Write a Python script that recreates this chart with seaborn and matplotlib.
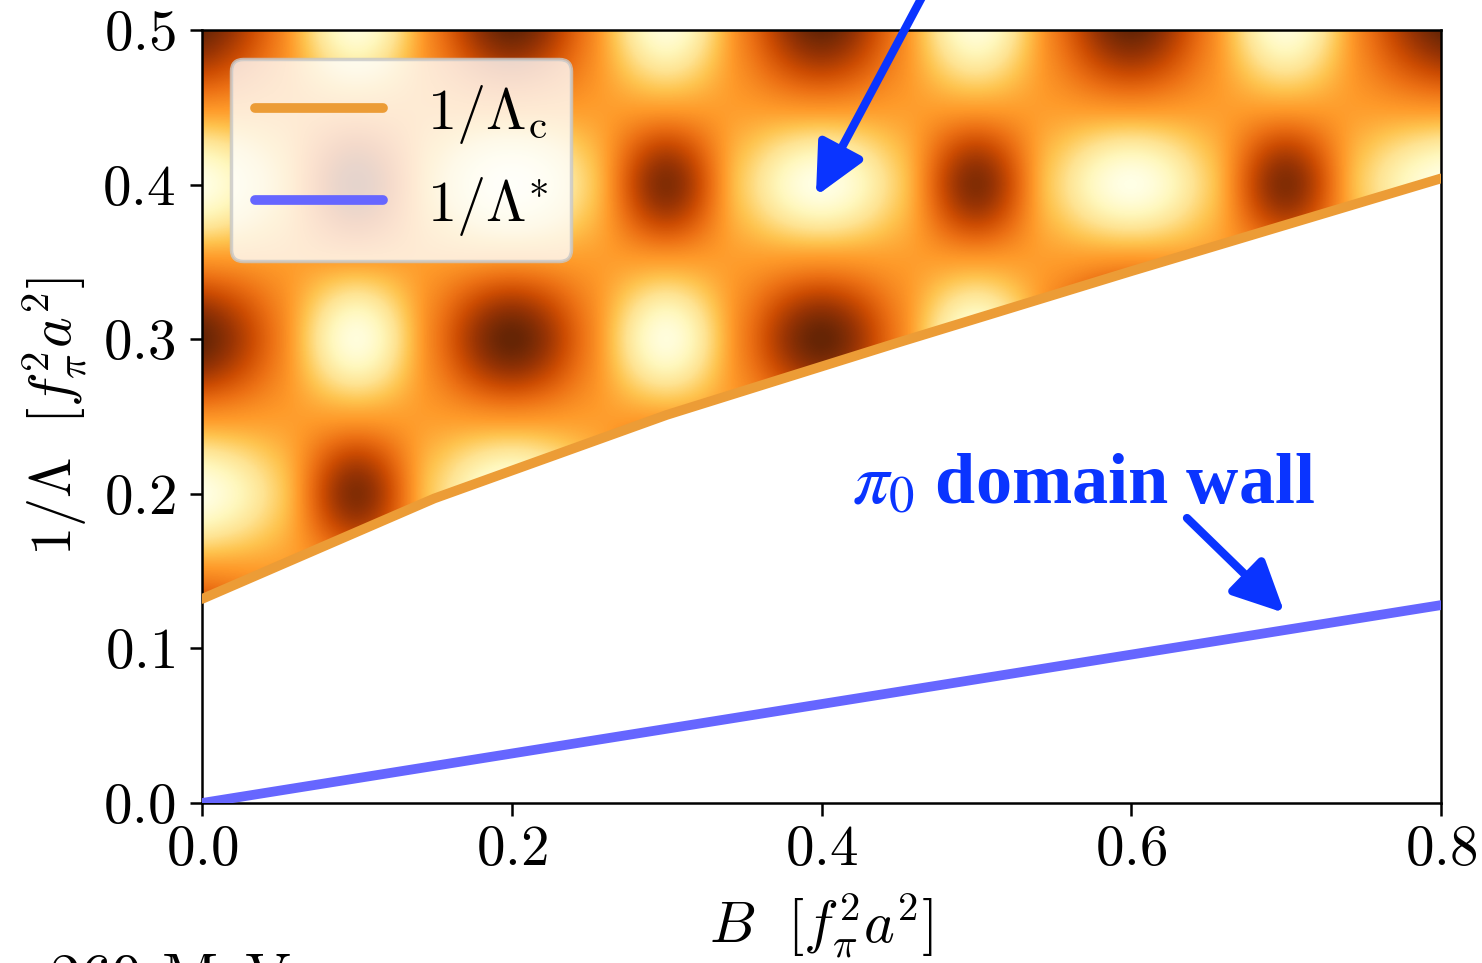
import numpy as np
import matplotlib
matplotlib.use("Agg")
import matplotlib.pyplot as plt
from matplotlib import patheffects as pe
import seaborn as sns

# ---------------- data ----------------
# phase boundary 1/Lambda_c (orange) and 1/Lambda* (blue)
lc_B = [0.00, 0.15, 0.30, 0.45, 0.60, 0.75, 0.80]
lc_val = [0.132, 0.197, 0.251, 0.298, 0.344, 0.389, 0.404]
ls_B = [0.00, 0.20, 0.40, 0.60, 0.80]
ls_val = [0.000, 0.032, 0.064, 0.096, 0.128]

# background field (0 = light, 1 = dark), sampled on a grid
grid_B = [0.00, 0.05, 0.10, 0.15, 0.20, 0.25, 0.30, 0.35, 0.40,
          0.45, 0.50, 0.55, 0.60, 0.65, 0.70, 0.75, 0.80]
grid_L = [0.10, 0.15, 0.20, 0.25, 0.30, 0.35, 0.40, 0.45, 0.50]
field = [
    [1.00, 0.58, 0.03, 0.58, 1.00, 0.58, 0.03, 0.58, 1.00, 0.58, 0.03, 0.58, 1.00, 0.58, 0.03, 0.58, 1.00],  # 0.10
    [0.52, 0.49, 0.48, 0.49, 0.52, 0.49, 0.48, 0.49, 0.52, 0.49, 0.48, 0.49, 0.52, 0.49, 0.48, 0.49, 0.52],  # 0.15
    [0.00, 0.34, 0.93, 0.34, 0.00, 0.34, 0.93, 0.34, 0.00, 0.34, 0.93, 0.34, 0.00, 0.34, 0.93, 0.34, 0.00],  # 0.20
    [0.52, 0.49, 0.48, 0.49, 0.52, 0.49, 0.48, 0.49, 0.52, 0.49, 0.48, 0.49, 0.52, 0.49, 0.48, 0.49, 0.52],  # 0.25
    [1.00, 0.58, 0.03, 0.58, 1.00, 0.58, 0.03, 0.58, 1.00, 0.58, 0.03, 0.58, 1.00, 0.58, 0.03, 0.58, 1.00],  # 0.30
    [0.52, 0.49, 0.48, 0.49, 0.52, 0.49, 0.48, 0.49, 0.52, 0.49, 0.48, 0.49, 0.52, 0.49, 0.48, 0.49, 0.52],  # 0.35
    [0.00, 0.34, 0.93, 0.34, 0.00, 0.34, 0.93, 0.34, 0.00, 0.34, 0.93, 0.34, 0.00, 0.34, 0.93, 0.34, 0.00],  # 0.40
    [0.52, 0.49, 0.48, 0.49, 0.52, 0.49, 0.48, 0.49, 0.52, 0.49, 0.48, 0.49, 0.52, 0.49, 0.48, 0.49, 0.52],  # 0.45
    [1.00, 0.58, 0.03, 0.58, 1.00, 0.58, 0.03, 0.58, 1.00, 0.58, 0.03, 0.58, 1.00, 0.58, 0.03, 0.58, 1.00],  # 0.50
]

x_ticks = [0.0, 0.2, 0.4, 0.6, 0.8]
y_ticks = [0.0, 0.1, 0.2, 0.3, 0.4, 0.5]

# ---------------- style ----------------
sns.set_theme(style="ticks")
plt.rcParams.update({
    "font.family": "serif",
    "font.serif": ["cmr10", "DejaVu Serif"],
    "mathtext.fontset": "cm",
    "axes.unicode_minus": False,
    "axes.formatter.use_mathtext": True,
    "axes.edgecolor": "black",
    "axes.linewidth": 1.8,
    "xtick.color": "black",
    "ytick.color": "black",
    "text.color": "black",
    "axes.labelcolor": "black",
    "xtick.major.width": 1.8,
    "ytick.major.width": 1.8,
    "xtick.major.size": 9,
    "ytick.major.size": 9,
    "xtick.direction": "out",
    "ytick.direction": "out",
})

ORANGE = "#ec9c36"
BLUE = "#6666ff"
ANN = "#0a34ff"

fig = plt.figure(figsize=(14.82, 9.63), dpi=100)
ax = fig.add_axes([202 / 1482, 1 - 803 / 963, (1441 - 202) / 1482, (803 - 30) / 963])

dx = grid_B[1] - grid_B[0]
dy = grid_L[1] - grid_L[0]
ax.imshow(np.array(field), origin="lower", cmap="YlOrBr", vmin=0, vmax=1,
          interpolation="catrom", interpolation_stage="data",
          aspect="auto", zorder=0,
          extent=[grid_B[0] - dx / 2, grid_B[-1] + dx / 2,
                  grid_L[0] - dy / 2, grid_L[-1] + dy / 2])

# white region below the critical line
ax.fill_between(lc_B, -0.05, lc_val, color="white", lw=0, zorder=1)

sns.lineplot(x=lc_B, y=lc_val, color=ORANGE, lw=7, ax=ax, zorder=3,
             label=r"$1/\Lambda_{\rm c}$")
sns.lineplot(x=ls_B, y=ls_val, color=BLUE, lw=7, ax=ax, zorder=3,
             label=r"$1/\Lambda^{*}$")

ax.set_xlim(0, 0.8)
ax.set_ylim(0, 0.5)
ax.set_xticks(x_ticks)
ax.set_yticks(y_ticks)
ax.tick_params(axis="x", labelsize=41, pad=7)
ax.tick_params(axis="y", labelsize=41, pad=10)
ax.set_xlabel(r"$B\ \ [f_\pi^2 a^2]$", fontsize=42, labelpad=11)
ax.set_ylabel(r"$1/\Lambda\ \ [f_\pi^2 a^2]$", fontsize=42, labelpad=10)

leg = ax.legend(loc="upper left", fontsize=42, framealpha=0.8, fancybox=True,
                edgecolor="#c8c8c8", handlelength=2.2, handletextpad=0.75,
                borderaxespad=0.5)
leg.get_frame().set_linewidth(2.5)
leg.set_zorder(5)

shadow = [pe.SimplePatchShadow(offset=(2, -2), alpha=0.25), pe.Normal()]

# arrow coming from the (cropped) label above the plot
a1 = ax.annotate("", xy=(0.3964, 0.3926), xytext=(0.4706, 0.532),
                 annotation_clip=False,
                 arrowprops=dict(arrowstyle="-|>,head_length=0.62,head_width=0.3",
                                 mutation_scale=50, lw=6, color=ANN,
                                 shrinkA=0, shrinkB=0, clip_on=False))
a1.arrow_patch.set_path_effects(shadow)
a1.set_zorder(6)

# pi0 domain wall label and arrow
ax.text(0.4196, 0.194, r"$\pi_0$ domain wall", color=ANN, fontsize=52,
        fontweight="bold", family=["Liberation Serif", "DejaVu Serif"],
        math_fontfamily="stix", ha="left", va="baseline", zorder=6)
a2 = ax.annotate("", xy=(0.699, 0.1229), xytext=(0.636, 0.1843),
                 arrowprops=dict(arrowstyle="-|>,head_length=0.62,head_width=0.3",
                                 mutation_scale=50, lw=6, color=ANN,
                                 shrinkA=0, shrinkB=0))
a2.arrow_patch.set_path_effects(shadow)
a2.set_zorder(6)

# cropped caption at the bottom (cut by the figure edge, as in the reference)
fig.text(0.034, -0.035, "260 MeV", fontsize=44, ha="left", va="baseline")

fig.savefig("out.png", dpi=100)
